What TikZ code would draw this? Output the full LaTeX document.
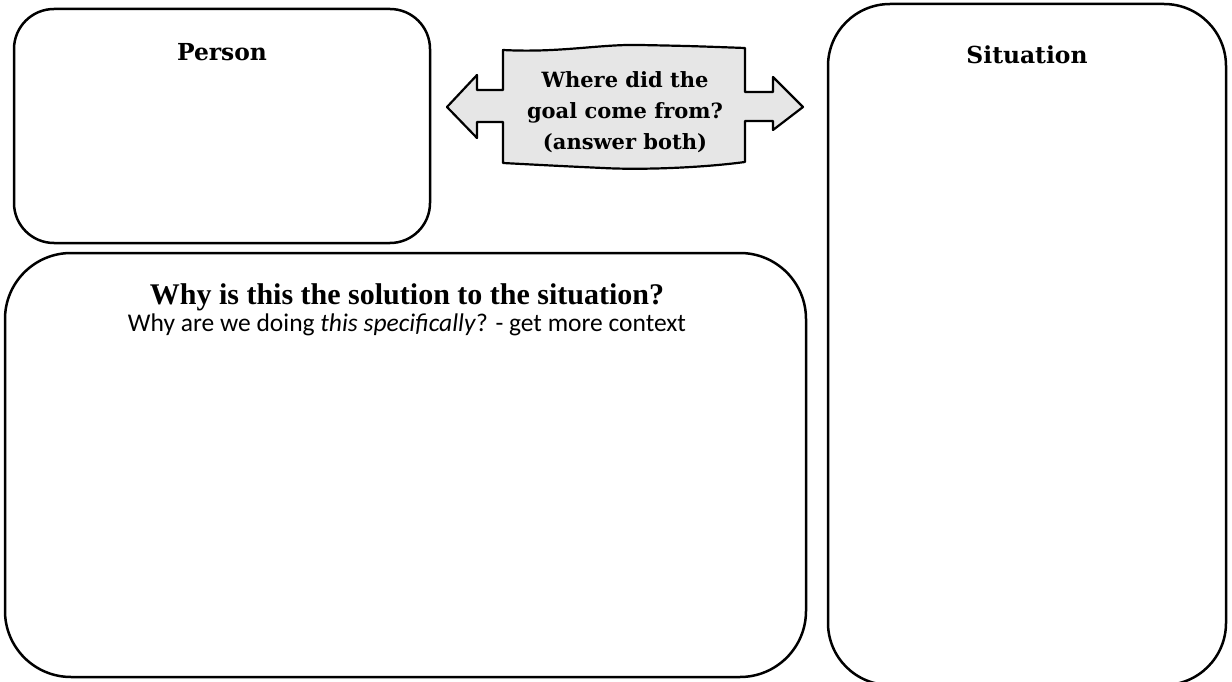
\documentclass[tikz,border=0pt]{standalone}
\usepackage{fontspec}
\setmainfont{Carlito}
\newfontfamily\slabfont{DejaVu Serif}
\newfontfamily\headfont{Liberation Serif}
\usetikzlibrary{positioning}
\definecolor{cink}{HTML}{000000}
\definecolor{cbanner}{HTML}{E6E6E6}
\tikzset{
  every picture/.style={x=1pt, y=-1pt, line width=2.5pt},
  panel/.style={draw=cink, rounded corners=#1, inner sep=0pt},
  panel/.default=40pt,
  heading/.style={font=\slabfont\bfseries\fontsize{23.4}{28}\selectfont, inner sep=0pt},
  banner/.style={draw=cink, fill=cbanner, line width=2.2pt, line join=round},
  bannertext/.style={font=\slabfont\bfseries\fontsize{21}{31}\selectfont, align=center, inner sep=0pt},
  question/.style={font=\headfont\bfseries\fontsize{30}{34}\selectfont, inner sep=0pt},
  hint/.style={font=\fontsize{25.5}{29}\selectfont, inner sep=0pt},
}

\begin{document}
\begin{tikzpicture}
  \useasboundingbox (0,0) rectangle (1232,682);
  % the three answer panels
  \node[panel, minimum width=416pt, minimum height=234pt] (person) at (222,126) {};
  \node[panel=62pt, minimum width=398pt, minimum height=681pt] (situation) at (1027,344.5) {};
  \node[panel=66pt, minimum width=801pt, minimum height=424pt] (solution) at (405.5,465) {};
  \node[heading] (persontitle) at (222,52) {Person};
  \node[heading] (situationtitle) at (1027,55) {Situation};
  \node[question] (question) at (407,297) {Why is this the solution to the situation?};
  \node[hint, below=1pt of question] (hint) {Why are we doing \textit{this specifically}? - get more context};
  % banner pointing both ways
  \path[banner] (447,107) -- (477,75) -- (477,90) -- (503,90) -- (503,50)
    .. controls (560,53) and (600,44) .. (640,45) .. controls (690,46) .. (745,48)
    -- (745,92) -- (773,92) -- (773,77) -- (803,107) -- (773,130) -- (773,121) -- (745,121)
    -- (745,162) .. controls (700,168) and (640,170) .. (603,168) .. controls (560,166) .. (503,163)
    -- (503,122) -- (477,122) -- (477,138) -- cycle;
  \node[bannertext] (goal) at (625,112) {Where did the\\goal come from?\\(answer both)};
\end{tikzpicture}
\end{document}
